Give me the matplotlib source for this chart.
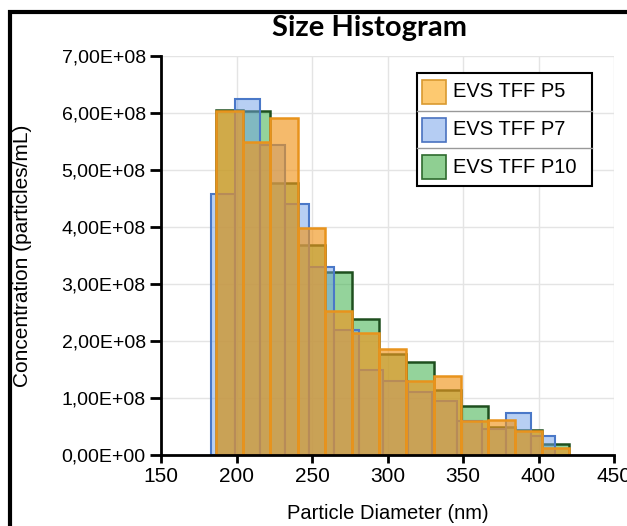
import numpy as np
import matplotlib
matplotlib.use("Agg")
import matplotlib.pyplot as plt
from matplotlib.ticker import FuncFormatter, MultipleLocator
from matplotlib.patches import Rectangle
from matplotlib.lines import Line2D

# bin edges (nm) and concentrations (particles/mL) for each sample
edges_p5 = [186.5, 204.5, 222.5, 240.5, 258.5, 276.5, 294.5, 312.5, 330.5,
            348.5, 366.5, 384.5, 402.5, 420.5]
conc_p5 = [6.03e8, 5.50e8, 5.91e8, 3.98e8, 2.53e8, 2.14e8, 1.86e8, 1.30e8,
           1.39e8, 0.60e8, 0.61e8, 0.42e8, 0.13e8]

edges_p7 = [183.0, 199.3, 215.6, 231.9, 248.2, 264.5, 280.8, 297.1, 313.4,
            329.7, 346.0, 362.3, 378.6, 394.9, 411.2]
conc_p7 = [4.58e8, 6.24e8, 5.44e8, 4.40e8, 3.30e8, 2.20e8, 1.50e8, 1.30e8,
           1.10e8, 0.95e8, 0.60e8, 0.45e8, 0.74e8, 0.33e8]

edges_p10 = [186.5, 204.5, 222.5, 240.5, 258.5, 276.5, 294.5, 312.5, 330.5,
             348.5, 366.5, 384.5, 402.5, 420.5]
conc_p10 = [6.05e8, 6.04e8, 4.77e8, 3.68e8, 3.21e8, 2.39e8, 1.77e8, 1.63e8,
            1.14e8, 0.86e8, 0.49e8, 0.44e8, 0.19e8]

labels = ["EVS TFF P5", "EVS TFF P7", "EVS TFF P10"]
x_ticks = [150, 200, 250, 300, 350, 400, 450]

# (face rgba, edge colour, line width) per sample
styles = {
    "EVS TFF P10": ((0.24, 0.69, 0.29, 0.55), "#1E4F1E", 1.8),
    "EVS TFF P7": ((0.44, 0.63, 0.91, 0.50), "#4A78C8", 1.5),
    "EVS TFF P5": ((0.94, 0.59, 0.12, 0.66), "#E8931C", 1.8),
}

fig = plt.figure(figsize=(6.27, 5.26), dpi=100)
ax = fig.add_axes([161 / 627, 1 - 455 / 526, 453 / 627, 399 / 526])

def draw(edges, conc, name):
    face, edge, lw = styles[name]
    e = np.array(edges)
    ax.bar(e[:-1], conc, width=np.diff(e), align="edge",
           facecolor=face, edgecolor=edge, linewidth=lw, zorder=2)

draw(edges_p10, conc_p10, "EVS TFF P10")
draw(edges_p7, conc_p7, "EVS TFF P7")
draw(edges_p5, conc_p5, "EVS TFF P5")

ax.set_xlim(150, 450)
ax.set_ylim(0, 7e8)
ax.set_xticks(x_ticks)
ax.yaxis.set_major_locator(MultipleLocator(1e8))
ax.yaxis.set_major_formatter(
    FuncFormatter(lambda v, p: f"{v:.2E}".replace(".", ",")))
ax.grid(True, color="#E4E4E4", linewidth=1.0, zorder=0)
ax.set_axisbelow(True)

for s in ["top", "right"]:
    ax.spines[s].set_visible(False)
for s in ["left", "bottom"]:
    ax.spines[s].set_linewidth(2.0)
    ax.spines[s].set_color("black")
ax.tick_params(axis="both", direction="out", width=2, colors="black")
ax.tick_params(axis="y", labelsize=14, length=8, pad=3)
ax.tick_params(axis="x", labelsize=15, length=6, pad=3)
for t in ax.get_xticklabels() + ax.get_yticklabels():
    t.set_fontfamily("Liberation Sans")

ax.set_xlabel("Particle Diameter (nm)", fontsize=14.5,
              fontfamily="Liberation Sans")
ax.xaxis.set_label_coords(0.5, -0.124)
ax.set_ylabel("Concentration (particles/mL)", fontsize=15,
              fontfamily="Liberation Sans")
ax.yaxis.set_label_coords(-0.285, 0.5)

fig.text(0.59, 0.947, "Size Histogram", ha="center", va="center",
         fontsize=21, fontweight="bold", fontfamily="Lato")

# boxed legend with separators between rows
lx0, lx1, ly0, ly1 = 0.565, 0.951, 0.674, 0.957
ax.add_patch(Rectangle((lx0, ly0), lx1 - lx0, ly1 - ly0,
                       transform=ax.transAxes, facecolor="white",
                       edgecolor="black", linewidth=1.5, zorder=5))
row_h = (ly1 - ly0) / 3
legend_faces = ["#FDC970", "#B5CDF3", "#8FCF92"]
legend_edges = ["#D99A30", "#4A72C0", "#2E6B2E"]
for i, name in enumerate(labels):
    yc = ly1 - row_h * (i + 0.5)
    ax.add_patch(Rectangle((lx0 + 0.012, yc - 0.03), 0.053, 0.06,
                           transform=ax.transAxes,
                           facecolor=legend_faces[i],
                           edgecolor=legend_edges[i], linewidth=1.2,
                           zorder=6))
    ax.text(lx0 + 0.080, yc, name, transform=ax.transAxes, fontsize=14.5,
            fontfamily="Liberation Sans", va="center", ha="left", zorder=6)
    if i > 0:
        yl = ly1 - row_h * i
        ax.add_line(Line2D([lx0, lx1], [yl, yl], transform=ax.transAxes,
                           color="#999999", linewidth=1.0, zorder=6))

# outer frame
fig.add_artist(Rectangle((10 / 627, -0.2), 1.2, 1.2 - 12 / 526,
                         transform=fig.transFigure, fill=False,
                         edgecolor="black", linewidth=3))

fig.savefig("out.png", dpi=100)
